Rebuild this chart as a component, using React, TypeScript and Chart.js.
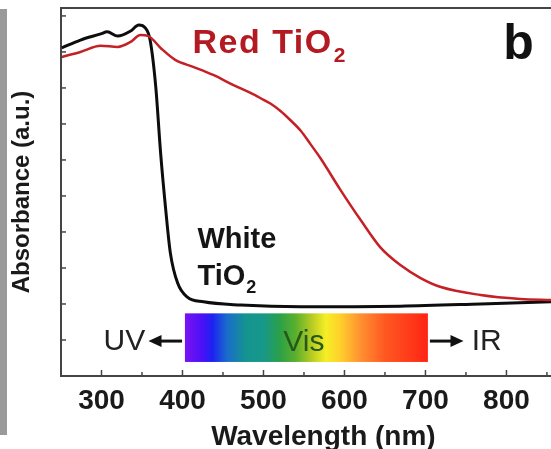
import React, { useEffect, useRef } from "react";
import { Chart, registerables } from "chart.js";

Chart.register(...registerables);

// UV-Vis absorption spectra of white and red TiO2
const wavelengthWhite = [251, 274, 299, 307, 320, 336, 346, 354, 360, 367, 373, 379, 385, 394, 406, 426, 472, 546, 669, 768, 855];
const absorbanceWhite = [9.11, 9.33, 9.5, 9.56, 9.44, 9.58, 9.75, 9.67, 9.33, 8.03, 6.19, 4.69, 3.42, 2.58, 2.19, 2.06, 1.97, 1.92, 1.94, 2.0, 2.06];

const wavelengthRed = [251, 274, 299, 320, 336, 348, 358, 373, 391, 414, 438, 463, 484, 496, 509, 521, 533, 546, 558, 570, 595, 620, 644, 669, 694, 719, 768, 817, 855];
const absorbanceRed = [8.86, 9.0, 9.17, 9.14, 9.28, 9.47, 9.44, 9.11, 8.78, 8.58, 8.36, 8.08, 7.86, 7.72, 7.56, 7.36, 7.11, 6.81, 6.44, 6.06, 5.17, 4.33, 3.58, 3.08, 2.72, 2.47, 2.25, 2.14, 2.11];

const xTickLabels = [300, 400, 500, 600, 700, 800];

// visible spectrum strip (wavelength -> colour)
const spectrumStops: [number, string][] = [
  [403, "#7a12f2"],
  [425, "#4a10f6"],
  [437, "#1c22f2"],
  [455, "#1a6ccc"],
  [478, "#14948f"],
  [500, "#17988a"],
  [520, "#2aa048"],
  [540, "#5cb02c"],
  [560, "#b8cc22"],
  [577, "#f5ee24"],
  [595, "#ffcf2c"],
  [620, "#ff9030"],
  [650, "#ff5822"],
  [703, "#ff2414"],
];

const FONT = "'Liberation Sans', Arial, sans-serif";

const overlay = {
  id: "overlay",
  beforeDraw(chart: any) {
    const ctx = chart.ctx;
    ctx.save();
    ctx.fillStyle = "#9a9a9a";
    ctx.fillRect(0, 9, 7, 426);
    ctx.restore();
  },
  afterDraw(chart: any) {
    const { ctx, chartArea } = chart;
    const xs = chart.scales.x;
    const ys = chart.scales.y;
    const px = (v: number) => xs.getPixelForValue(v);
    const py = (v: number) => ys.getPixelForValue(v);
    ctx.save();

    // top frame line
    ctx.strokeStyle = "#444";
    ctx.lineWidth = 2;
    ctx.beginPath();
    ctx.moveTo(chartArea.left - 1, chartArea.top);
    ctx.lineTo(chartArea.right, chartArea.top);
    ctx.stroke();

    // inward tick marks
    ctx.lineWidth = 1.5;
    for (let v = 300; v <= 850; v += 50) {
      const x = px(v);
      const len = v % 100 === 0 ? 6 : 4;
      ctx.beginPath();
      ctx.moveTo(x, chartArea.bottom);
      ctx.lineTo(x, chartArea.bottom - len);
      ctx.stroke();
    }
    for (let v = 1; v <= 10; v++) {
      const y = py(v);
      ctx.beginPath();
      ctx.moveTo(chartArea.left, y);
      ctx.lineTo(chartArea.left + 5, y);
      ctx.stroke();
    }

    // spectrum strip
    const x0 = px(403), x1 = px(703);
    const y0 = py(1.74), y1 = py(0.39);
    const grad = ctx.createLinearGradient(x0, 0, x1, 0);
    spectrumStops.forEach(([w, c]) => grad.addColorStop((w - 403) / 300, c));
    ctx.fillStyle = grad;
    ctx.fillRect(x0, y0, x1 - x0, y1 - y0);

    ctx.textBaseline = "alphabetic";
    ctx.textAlign = "left";

    // band labels
    ctx.fillStyle = "#222";
    ctx.font = `30px ${FONT}`;
    ctx.fillText("UV", px(302.5), py(0.72));
    ctx.fillText("IR", px(757), py(0.72));
    ctx.fillStyle = "#27581a";
    ctx.fillText("Vis", px(524.5), py(0.69));

    // arrows
    const arrow = (from: number, to: number, yv: number) => {
      const a = px(from), b = px(to), y = py(yv);
      const dir = Math.sign(b - a);
      ctx.strokeStyle = "#111";
      ctx.fillStyle = "#111";
      ctx.lineWidth = 3;
      ctx.beginPath();
      ctx.moveTo(a, y);
      ctx.lineTo(b - dir * 8, y);
      ctx.stroke();
      ctx.beginPath();
      ctx.moveTo(b, y);
      ctx.lineTo(b - dir * 13, y - 6);
      ctx.lineTo(b - dir * 13, y + 6);
      ctx.closePath();
      ctx.fill();
    };
    arrow(399.5, 358, 0.97);
    arrow(705.5, 747, 0.97);

    // series labels
    const withSub = (main: string, sub: string, xv: number, yv: number, size: number, subSize: number, color: string) => {
      ctx.fillStyle = color;
      ctx.font = `bold ${size}px ${FONT}`;
      const x = px(xv), y = py(yv);
      ctx.fillText(main, x, y);
      const w = ctx.measureText(main).width;
      ctx.font = `bold ${subSize}px ${FONT}`;
      ctx.fillText(sub, x + w + 1, y + subSize * 0.45);
    };
    (ctx as any).letterSpacing = "1.5px";
    withSub("Red TiO", "2", 412.3, 8.97, 34, 21, "#b41a22");
    (ctx as any).letterSpacing = "0px";
    ctx.fillStyle = "#151515";
    ctx.font = `bold 29px ${FONT}`;
    ctx.fillText("White", px(418.5), py(3.56));
    withSub("TiO", "2", 418.5, 2.53, 29, 18, "#151515");

    ctx.fillStyle = "#111";
    ctx.font = `bold 50px ${FONT}`;
    ctx.fillText("b", px(796), py(8.81));

    // x-axis title
    ctx.fillStyle = "#1a1a1a";
    ctx.font = `bold 28px ${FONT}`;
    ctx.textAlign = "center";
    ctx.fillText("Wavelength (nm)", px(574), chartArea.bottom + 69);

    ctx.restore();
  },
};

export default function App() {
  const ref = useRef<HTMLCanvasElement | null>(null);

  useEffect(() => {
    document.body.style.margin = "0";
    const canvas = ref.current;
    if (!canvas) return;
    const toPoints = (xs: number[], ys: number[]) => xs.map((x, i) => ({ x, y: ys[i] }));
    const chart = new Chart(canvas, {
      type: "line",
      data: {
        datasets: [
          {
            label: "Red TiO2",
            data: toPoints(wavelengthRed, absorbanceRed),
            borderColor: "#c42026",
            borderWidth: 2.5,
            pointRadius: 0,
            cubicInterpolationMode: "monotone",
          },
          {
            label: "White TiO2",
            data: toPoints(wavelengthWhite, absorbanceWhite),
            borderColor: "#0d0d0d",
            borderWidth: 3,
            pointRadius: 0,
            cubicInterpolationMode: "monotone",
          },
        ],
      },
      options: {
        responsive: false,
        animation: false,
        layout: { padding: { top: 8, right: 0, left: 0, bottom: 0 } },
        plugins: { legend: { display: false }, tooltip: { enabled: false } },
        scales: {
          x: {
            type: "linear",
            min: 250,
            max: 855,
            grid: { display: false, drawTicks: false },
            border: { display: true, color: "#444", width: 2 },
            afterBuildTicks: (s: any) => {
              s.ticks = xTickLabels.map((v) => ({ value: v }));
            },
            ticks: {
              autoSkip: false,
              maxRotation: 0,
              padding: 8,
              color: "#1a1a1a",
              font: { family: FONT, size: 28, weight: "bold" },
            },
            afterFit: (s: any) => {
              s.height = 73;
            },
          },
          y: {
            type: "linear",
            min: 0,
            max: 10.22,
            grid: { display: false, drawTicks: false },
            border: { display: true, color: "#444", width: 2 },
            ticks: { display: false },
            title: {
              display: true,
              text: "Absorbance (a.u.)",
              color: "#1a1a1a",
              font: { family: FONT, size: 24, weight: "bold" },
              padding: { top: 8, bottom: 0 },
            },
            afterFit: (s: any) => {
              s.width = 61;
            },
          },
        },
      },
      plugins: [overlay],
    } as any);
    return () => chart.destroy();
  }, []);

  return (
    <div style={{ width: 551, height: 449, overflow: "hidden", background: "#fff" }}>
      <canvas ref={ref} width={551} height={449} style={{ display: "block" }} />
    </div>
  );
}
